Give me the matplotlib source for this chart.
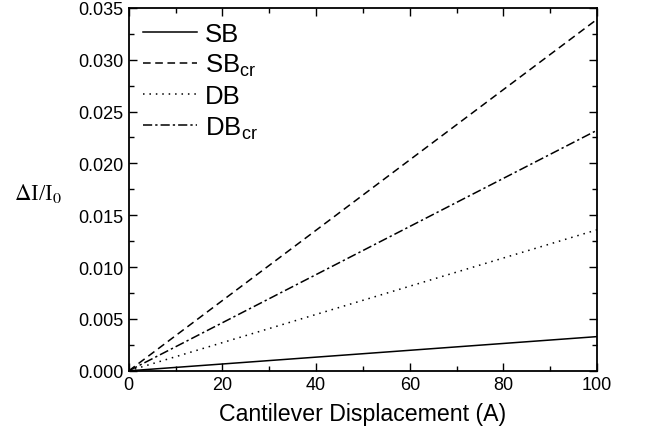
import matplotlib
matplotlib.use("Agg")
import matplotlib.pyplot as plt
from matplotlib.ticker import MultipleLocator, FormatStrFormatter

plt.rcParams['font.family'] = ['Liberation Sans', 'DejaVu Sans']
plt.rcParams['mathtext.fontset'] = 'custom'
plt.rcParams['mathtext.rm'] = 'Liberation Sans'

# displacement (A) and relative intensity change
disp = [0, 100]
sb = [0.0, 0.0033]
sb_cr = [0.0, 0.0339]
db = [0.0, 0.0136]
db_cr = [0.0, 0.0232]

fig = plt.figure(figsize=(6.47, 4.39), dpi=100)
ax = fig.add_axes([0.199, 0.153, 0.724, 0.827])

ax.plot(disp, sb, color='black', lw=1.1, ls='-', label='SB')
ax.plot(disp, sb_cr, color='black', lw=1.1, ls=(0, (5, 3)), label='SB$_{\\mathregular{cr}}$')
ax.plot(disp, db, color='black', lw=1.1, ls=(0, (1, 3.2)), label='DB')
ax.plot(disp, db_cr, color='black', lw=1.1, ls=(0, (6, 2, 1.5, 2)), label='DB$_{\\mathregular{cr}}$')

ax.set_xlim(0, 100)
ax.set_ylim(0, 0.035)
ax.xaxis.set_major_locator(MultipleLocator(20))
ax.xaxis.set_minor_locator(MultipleLocator(10))
ax.yaxis.set_major_locator(MultipleLocator(0.005))
ax.yaxis.set_minor_locator(MultipleLocator(0.0025))
ax.yaxis.set_major_formatter(FormatStrFormatter('%.3f'))

ax.tick_params(which='both', direction='in', top=True, right=True, labelsize=13, width=1.0)
ax.tick_params(which='major', length=5.5, pad=4)
ax.tick_params(which='minor', length=3.5)
for s in ax.spines.values():
    s.set_linewidth(1.3)

ax.set_xlabel('Cantilever Displacement (A)', fontsize=16.7, labelpad=6)
ax.set_ylabel('$\\Delta$I/I$_0$', fontsize=16.5, rotation=0, va='center',
              family=['Liberation Serif', 'DejaVu Serif'], math_fontfamily='stix')
ax.yaxis.set_label_coords(-0.194, 0.49)

leg = ax.legend(loc='upper left', frameon=False, fontsize=18.5, handlelength=2.1,
                handletextpad=0.31, labelspacing=0.23, borderaxespad=0.0,
                borderpad=0.0, bbox_to_anchor=(0.03, 0.961))

fig.savefig('out.png', dpi=100)
